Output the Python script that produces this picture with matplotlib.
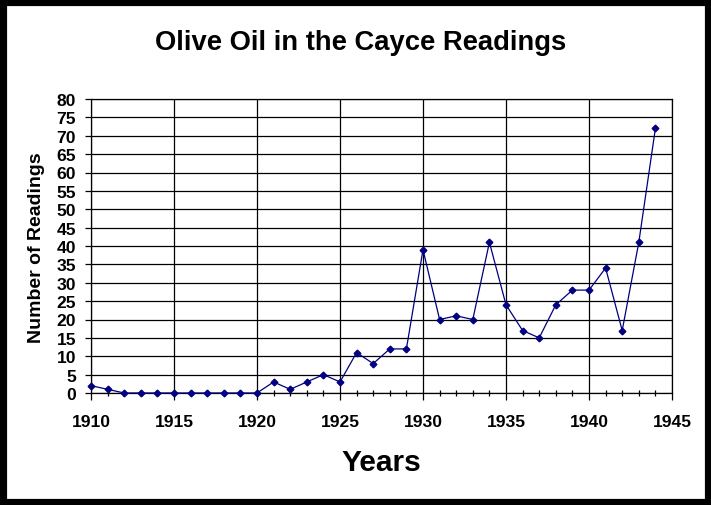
import matplotlib
matplotlib.use("Agg")
import matplotlib.pyplot as plt
from matplotlib.ticker import MultipleLocator

years = list(range(1910, 1945))
readings = [2, 1, 0, 0, 0, 0, 0, 0, 0, 0,
            0, 3, 1, 3, 5, 3, 11, 8, 12, 12,
            39, 20, 21, 20, 41, 24, 17, 15, 24, 28,
            28, 34, 17, 41, 72]

title = "Olive Oil in the Cayce Readings"
xlabel = "Years"
ylabel = "Number of Readings"

plt.rcParams['font.family'] = ['Liberation Sans', 'DejaVu Sans']
plt.rcParams['font.weight'] = 'bold'

W, H = 711, 506
fig = plt.figure(figsize=(W / 100, H / 100), dpi=100)
fig.patch.set_facecolor('white')

# black frame around the whole figure
fig.patches.append(plt.Rectangle((0, 0), 1, 1, transform=fig.transFigure,
                                 fill=False, edgecolor='black',
                                 linewidth=9.5, zorder=10))

L, R, T, B = 91, 672, 100, 394
ax = fig.add_axes([L / W, 1 - B / H, (R - L) / W, (B - T) / H])
ax.set_xlim(1910, 1945)
ax.set_ylim(0, 80)

ax.plot(years, readings, color='#000080', linewidth=0.9, marker='D',
        markersize=3.4, markerfacecolor='#000080', markeredgecolor='#000080',
        zorder=5, clip_on=False)

ax.xaxis.set_major_locator(MultipleLocator(5))
ax.xaxis.set_minor_locator(MultipleLocator(1))
ax.yaxis.set_major_locator(MultipleLocator(5))

ax.grid(True, which='major', color='black', linewidth=0.9)
ax.set_axisbelow(True)
for s in ax.spines.values():
    s.set_color('black')
    s.set_linewidth(0.9)

ax.tick_params(axis='x', which='major', direction='out', length=4.8,
               width=0.9, pad=10, labelsize=12.6)
ax.tick_params(axis='x', which='minor', direction='inout', length=4.6,
               width=0.9)
ax.tick_params(axis='y', which='major', direction='out', length=4.3,
               width=0.9, pad=6.5, labelsize=12.6)
for lab in ax.get_xticklabels() + ax.get_yticklabels():
    lab.set_fontweight('bold')

fig.text(361 / W, 1 - 50 / H, title, ha='center', va='baseline',
         fontsize=19.7, fontweight='bold')
fig.text(381 / W, 1 - 471 / H, xlabel, ha='center', va='baseline',
         fontsize=21.5, fontweight='bold')
fig.text(37 / W, 1 - 247.5 / H, ylabel, ha='center', va='center',
         rotation=90, fontsize=14, fontweight='bold')

fig.savefig('out.png', dpi=100)
